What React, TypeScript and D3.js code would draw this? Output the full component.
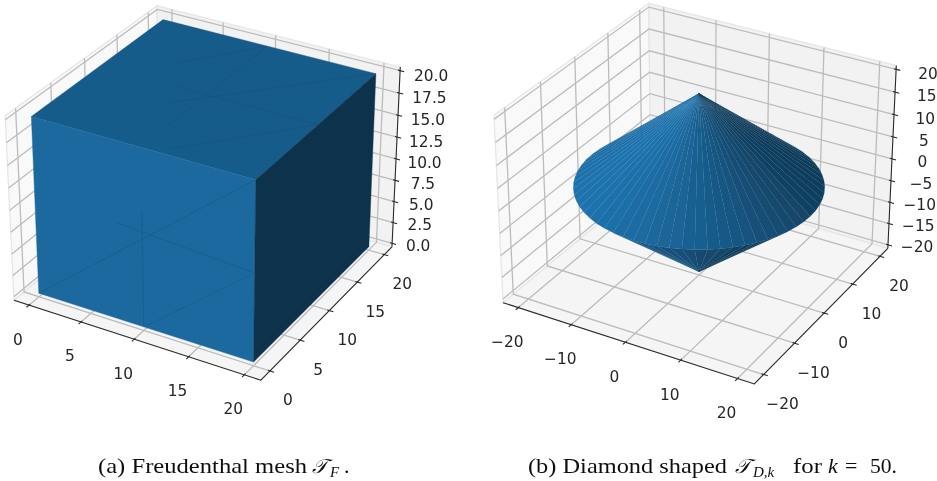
import React from "react";
import * as d3 from "d3";

// ---------- data ----------
const cubeXTicks = [0, 5, 10, 15, 20];
const cubeYTicks = [0, 5, 10, 15, 20];
const cubeZTicks = [0, 2.5, 5, 7.5, 10, 12.5, 15, 17.5, 20];
const coneXTicks = [-20, -10, 0, 10, 20];
const coneYTicks = [-20, -10, 0, 10, 20];
const coneZTicks = [-20, -15, -10, -5, 0, 5, 10, 15, 20];
const cubeSize = 20;
const coneRadius = 20;
const coneHeight = 20;
const coneSegments = 64;
type V3 = [number, number, number];
// faint triangle edges visible on the cube faces, [from, to]
const meshTop: [V3, V3][] = [
  [[5, 13.5, 20], [10, 20, 20]],
  [[10, 3.3, 20], [10, 20, 20]],
  [[7, 10, 20], [20, 10, 20]],
  [[8.3, 7.5, 20], [20, 20, 20]],
  [[12, 0.85, 20], [20, 10, 20]],
];
const meshFront: [V3, V3][] = [
  [[0, 0, 0], [20, 0, 20]],
  [[7.5, 0, 11], [20, 0, 10]],
  [[10, 0, 0], [10, 0, 13]],
  [[10, 0, 0], [20, 0, 10]],
];

// ---------- view ----------
const baseColor = "#1f77b4";
const u: V3 = [0.866025, 0.5, 0];
const v: V3 = [-0.25, 0.433013, 0.866025];
const w: V3 = [0.433013, -0.75, 0.5];
const box: V3 = [1.19048, 1.19048, 0.89286];
const light: V3 = [-0.6667, -0.6667, 0.3333];
const dot = (a: V3, b: V3) => a[0] * b[0] + a[1] * b[1] + a[2] * b[2];

function shade(n: V3) {
  const len = Math.sqrt(dot(n, n));
  const s = dot(n, light) / len;
  const k = 0.3 + 0.7 * ((s + 1) / 2);
  const c = d3.rgb(baseColor);
  return d3.rgb(c.r * k, c.g * k, c.b * k).formatHex();
}

function makeProjector(xyLim: [number, number], zLim: [number, number], sx: number, sy: number, ox: number, oy: number) {
  const pad = (l: [number, number]): [number, number] => {
    const d = (l[1] - l[0]) / 48;
    return [l[0] - d, l[1] + d];
  };
  const fx = d3.scaleLinear().domain(pad(xyLim)).range([-box[0] / 2, box[0] / 2]);
  const fz = d3.scaleLinear().domain(pad(zLim)).range([-box[2] / 2, box[2] / 2]);
  return (p: V3): [number, number] => {
    const q: V3 = [fx(p[0]), fx(p[1]), fz(p[2])];
    const den = 10 - dot(w, q);
    return [ox + (sx * dot(u, q)) / den, oy - (sy * dot(v, q)) / den];
  };
}

const line = d3.line<[number, number]>();
const poly = (pts: [number, number][]) => line(pts) + "Z";

function fmt(t: number, decimals: number) {
  return t.toFixed(decimals).replace("-", "\u2212");
}

type AxesProps = {
  proj: (p: V3) => [number, number];
  xyLim: [number, number];
  zLim: [number, number];
  xTicks: number[];
  yTicks: number[];
  zTicks: number[];
  zDec: number;
  xOff: [number, number];
  yOff: [number, number];
  zOff: [[number, number], [number, number]];
};

function Axes({ proj, xyLim, zLim, xTicks, yTicks, zTicks, zDec, xOff, yOff, zOff }: AxesProps) {
  const dxy = (xyLim[1] - xyLim[0]) / 48;
  const dz = (zLim[1] - zLim[0]) / 48;
  const a = xyLim[0] - dxy;
  const b = xyLim[1] + dxy;
  const c = zLim[0] - dz;
  const e = zLim[1] + dz;
  const span = b - a;
  const out = span * 0.016;
  const inn = span * 0.008;
  const panes: { pts: V3[]; fill: string }[] = [
    { pts: [[a, a, c], [a, b, c], [a, b, e], [a, a, e]], fill: "#f9f9f9" },
    { pts: [[a, b, c], [b, b, c], [b, b, e], [a, b, e]], fill: "#f2f2f2" },
    { pts: [[a, a, c], [b, a, c], [b, b, c], [a, b, c]], fill: "#f5f5f5" },
  ];
  const grid = "#bcbcbc";
  const ink = "#262626";
  const zScale = d3.scaleLinear().domain(d3.extent(zTicks) as [number, number]).range([0, 1]);
  return (
    <g>
      {panes.map((p, i) => (
        <path key={i} d={poly(p.pts.map(proj))} fill={p.fill} stroke="#e6e6e6" strokeWidth={1.3} />
      ))}
      <g fill="none" stroke={grid} strokeWidth={1.3}>
        {xTicks.map((t) => (
          <path key={"gx" + t} d={line([proj([t, a, c]), proj([t, b, c]), proj([t, b, e])]) as string} />
        ))}
        {yTicks.map((t) => (
          <path key={"gy" + t} d={line([proj([b, t, c]), proj([a, t, c]), proj([a, t, e])]) as string} />
        ))}
        {zTicks.map((t) => (
          <path key={"gz" + t} d={line([proj([a, a, t]), proj([a, b, t]), proj([b, b, t])]) as string} />
        ))}
      </g>
      <g fill="none" stroke={ink} strokeWidth={1.05}>
        <path d={line([proj([a, a, c]), proj([b, a, c]), proj([b, b, c])]) as string} />
        <path d={line([proj([b, b, c]), proj([b, b, e])]) as string} />
        {xTicks.map((t) => (
          <path key={"tx" + t} d={line([proj([t, a - out, c]), proj([t, a + inn, c])]) as string} />
        ))}
        {yTicks.map((t) => (
          <path key={"ty" + t} d={line([proj([b + out, t, c]), proj([b - inn, t, c])]) as string} />
        ))}
        {zTicks.map((t) => (
          <path key={"tz" + t} d={line([proj([b + out, b, t]), proj([b - inn, b, t])]) as string} />
        ))}
      </g>
      <g fontFamily="DejaVu Sans" fontSize={15.4} fill={ink} textAnchor="middle">
        {xTicks.map((t) => {
          const [px, py] = proj([t, a, c]);
          return (
            <text key={"lx" + t} x={px + xOff[0]} y={py + xOff[1] + 5.5}>
              {fmt(t, 0)}
            </text>
          );
        })}
        {yTicks.map((t) => {
          const [px, py] = proj([b, t, c]);
          return (
            <text key={"ly" + t} x={px + yOff[0]} y={py + yOff[1] + 5.5}>
              {fmt(t, 0)}
            </text>
          );
        })}
        {zTicks.map((t) => {
          const [px, py] = proj([b, b, t]);
          const f = zScale(t);
          return (
            <text
              key={"lz" + t}
              x={px + zOff[0][0] + (zOff[1][0] - zOff[0][0]) * f}
              y={py + zOff[0][1] + (zOff[1][1] - zOff[0][1]) * f + 5.5}
            >
              {fmt(t, zDec)}
            </text>
          );
        })}
      </g>
    </g>
  );
}

function Cube() {
  const s = cubeSize;
  const xyLim: [number, number] = [-1, 21];
  const zLim: [number, number] = [0, 20];
  const proj = makeProjector(xyLim, zLim, 2375, 2355, 206.5, 184);
  const faces: { pts: V3[]; n: V3 }[] = [
    { pts: [[0, s, s], [s, s, s], [s, 0, s], [0, 0, s]], n: [0, 0, 1] },
    { pts: [[0, 0, 0], [s, 0, 0], [s, 0, s], [0, 0, s]], n: [0, -1, 0] },
    { pts: [[s, 0, 0], [s, s, 0], [s, s, s], [s, 0, s]], n: [1, 0, 0] },
  ];
  return (
    <g>
      <Axes
        proj={proj}
        xyLim={xyLim}
        zLim={zLim}
        xTicks={cubeXTicks}
        yTicks={cubeYTicks}
        zTicks={cubeZTicks}
        zDec={1}
        xOff={[-11, 34]}
        yOff={[18, 29]}
        zOff={[[26, 2], [31, 5]]}
      />
      {faces.map((f, i) => {
        const col = shade(f.n);
        return <path key={i} d={poly(f.pts.map(proj))} fill={col} stroke={col} strokeWidth={0.4} />;
      })}
      <g fill="none" strokeWidth={0.7} stroke="#0f4468" strokeOpacity={0.3}>
        {[...meshTop, ...meshFront].map((m, i) => (
          <path key={i} d={line(m.map(proj)) as string} />
        ))}
      </g>
    </g>
  );
}

function Cone() {
  const xyLim: [number, number] = [-22, 22];
  const zLim: [number, number] = [-20, 20];
  const proj = makeProjector(xyLim, zLim, 2418, 2393, 699, 184.5);
  const ring = d3.range(coneSegments).map((i): V3 => {
    const t = (i / coneSegments) * 2 * Math.PI;
    return [coneRadius * Math.cos(t), coneRadius * Math.sin(t), 0];
  });
  const facets: { pts: V3[]; n: V3 }[] = [];
  ring.forEach((r0, i) => {
    const r1 = ring[(i + 1) % coneSegments];
    const mid = (i + 0.5) / coneSegments * 2 * Math.PI;
    facets.push({ pts: [[0, 0, -coneHeight], r1, r0], n: [Math.cos(mid), Math.sin(mid), -1] });
  });
  ring.forEach((r0, i) => {
    const r1 = ring[(i + 1) % coneSegments];
    const mid = (i + 0.5) / coneSegments * 2 * Math.PI;
    facets.push({ pts: [[0, 0, coneHeight], r0, r1], n: [Math.cos(mid), Math.sin(mid), 1] });
  });
  const visible = facets.filter((f) => {
    const [p, q, r] = f.pts.map(proj);
    return (q[0] - p[0]) * (r[1] - p[1]) - (q[1] - p[1]) * (r[0] - p[0]) < 0;
  });
  return (
    <g>
      <Axes
        proj={proj}
        xyLim={xyLim}
        zLim={zLim}
        xTicks={coneXTicks}
        yTicks={coneYTicks}
        zTicks={coneZTicks}
        zDec={0}
        xOff={[-11, 34]}
        yOff={[19, 29]}
        zOff={[[29, 2], [32, 4]]}
      />
      {visible.map((f, i) => {
        const col = shade(f.n);
        return <path key={i} d={poly(f.pts.map(proj))} fill={col} stroke={col} strokeWidth={0.2} />;
      })}
    </g>
  );
}

function Captions() {
  const serif = "Liberation Serif";
  return (
    <g fontFamily={serif} fontSize={22} fill="#111">
      <text x={98} y={473} textLength={209} lengthAdjust="spacingAndGlyphs">(a) Freudenthal mesh</text>
      <text x={312} y={473} fontStyle="italic" fontSize={20} fontFamily="DejaVu Serif, Liberation Serif">𝒯</text>
      <text x={330} y={477} fontStyle="italic" fontSize={15}>F</text>
      <text x={344} y={473}>.</text>
      <text x={528} y={473} textLength={199} lengthAdjust="spacingAndGlyphs">(b) Diamond shaped</text>
      <text x={735} y={473} fontStyle="italic" fontSize={20} fontFamily="DejaVu Serif, Liberation Serif">𝒯</text>
      <text x={753} y={477} fontStyle="italic" fontSize={15}>D,k</text>
      <text x={793} y={473} textLength={29} lengthAdjust="spacingAndGlyphs">for</text>
      <text x={828} y={473} fontStyle="italic">k</text>
      <text x={845} y={473}>=</text>
      <text x={870} y={473} textLength={27} lengthAdjust="spacingAndGlyphs">50.</text>
    </g>
  );
}

export default function App() {
  return (
    <svg
      width={937}
      height={481}
      viewBox="0 0 937 481"
      style={{ position: "absolute", left: 0, top: 0, background: "#fff" }}
    >
      <defs>
        <filter id="soft" x="0" y="0" width="937" height="481" filterUnits="userSpaceOnUse">
          <feGaussianBlur stdDeviation="0.35" />
        </filter>
      </defs>
      <g filter="url(#soft)">
        <rect width={937} height={481} fill="#fff" />
        <Cube />
        <Cone />
        <Captions />
      </g>
    </svg>
  );
}
